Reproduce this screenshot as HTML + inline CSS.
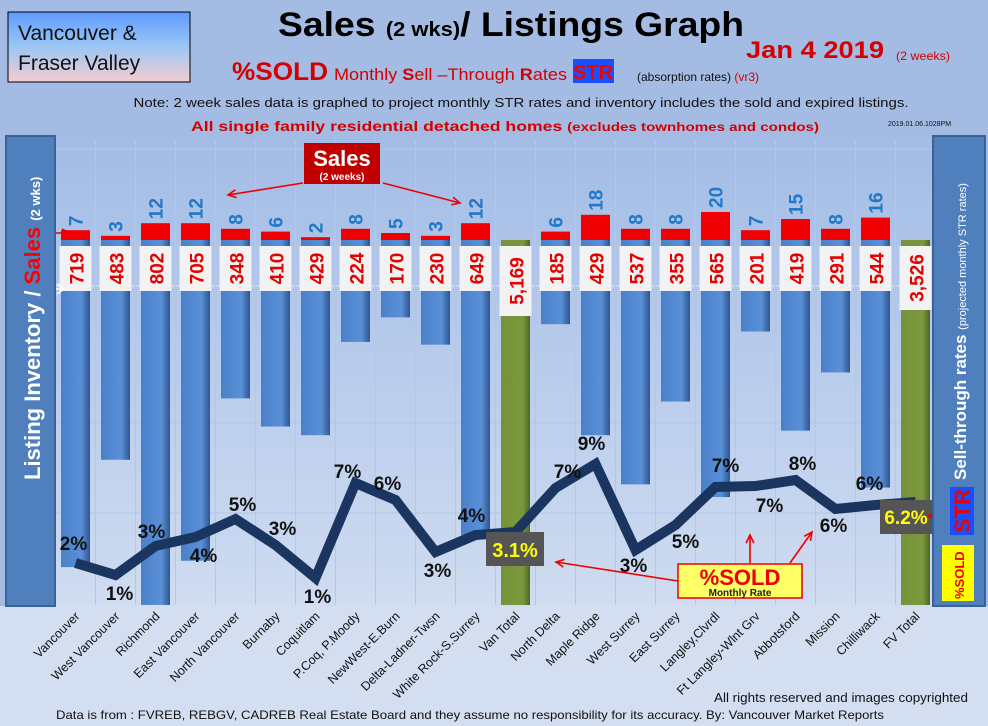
<!DOCTYPE html>
<html><head><meta charset="utf-8">
<style>
html,body{margin:0;padding:0;background:#a4bce4;}
svg{display:block;font-family:"Liberation Sans",sans-serif;}
</style></head><body>
<svg id="s" width="988" height="726" viewBox="0 0 988 726" xmlns="http://www.w3.org/2000/svg">
<defs>
<linearGradient id="bx" x1="0" y1="0" x2="0" y2="1"><stop offset="0" stop-color="#5e9bff"/><stop offset="0.5" stop-color="#9cc6f4"/><stop offset="1" stop-color="#f5ccd2"/></linearGradient>
<linearGradient id="pa" x1="0" y1="0" x2="0" y2="1"><stop offset="0" stop-color="#a3bce6"/><stop offset="1" stop-color="#cfdcf1"/></linearGradient>
<linearGradient id="bb" x1="0" y1="0" x2="1" y2="0"><stop offset="0" stop-color="#4a80c8"/><stop offset="0.7" stop-color="#5a90d8"/><stop offset="1" stop-color="#2e5590"/></linearGradient>
<linearGradient id="gb" x1="0" y1="0" x2="1" y2="0"><stop offset="0" stop-color="#76923a"/><stop offset="0.75" stop-color="#7a983c"/><stop offset="1" stop-color="#4f6426"/></linearGradient>
</defs>
<rect x="0" y="0" width="988" height="726" fill="#a4bce4"/>
<rect x="0" y="606" width="988" height="120" fill="#d3def1"/>
<rect x="56" y="136" width="877" height="470" fill="url(#pa)"/>
<g id="g"></g>
</svg>
<script>
var g=document.getElementById('g');var h='';
var names=["Vancouver","West Vancouver","Richmond","East Vancouver","North Vancouver","Burnaby","Coquitlam","P.Coq, P.Moody","NewWest-E.Burn","Delta-Ladner-Twsn","White Rock-S.Surrey","Van Total","North Delta","Maple Ridge","West Surrey","East Surrey","Langley,Clvrdl","Ft Langley-Wlnt Grv","Abbotsford","Mission","Chilliwack","FV Total"];
var L=[719,483,802,705,348,410,429,224,170,230,649,5169,185,429,537,355,565,201,419,291,544,3526];
var S=[7,3,12,12,8,6,2,8,5,3,12,78,6,18,8,8,20,7,15,8,16,106];
var LY=[563,575,546,537,519,545,578,483,500,552,535,532,488,464,550,525,487,486,480,509,505,502];
var P=[["2%",-2,550],["1%",4,600],["3%",-4,538],["4%",8,562],["5%",7,511],["3%",7,535],["1%",2,603],["7%",-8,478],["6%",-8,490],["3%",2,577],["4%",-4,522],null,["7%",12,478],["9%",-4,450],["3%",-2,572],["5%",10,548],["7%",10,472],["7%",14,512],["8%",7,470],["6%",-2,532],["6%",-6,490],null];
function cx(i){return 75.5+40*i;}
[149,240,332,423,513].forEach(function(y){h+='<line x1="56" x2="933" y1="'+y+'" y2="'+y+'" stroke="#b3c7e8" stroke-width="1"/>';});
h+='<line x1="56" x2="933" y1="286" y2="286" stroke="#dfe7f4" stroke-width="1"/>';
for(var i=1;i<22;i++){var x=55.5+40*i;h+='<line x1="'+x+'" x2="'+x+'" y1="140" y2="605" stroke="#b3c7e8" stroke-width="1"/>';}
for(var i=0;i<22;i++){
 var x=cx(i);var tot=(i==11||i==21);
 var bot=tot?605:Math.min(605,240+0.455*L[i]);
 h+='<rect x="'+(x-14.5)+'" y="240" width="29" height="'+(bot-240)+'" fill="url(#'+(tot?'gb':'bb')+')"/>';
 if(tot){var top=i==11?205:192;
  h+='<rect x="'+(x-14.5)+'" y="'+top+'" width="29" height="'+(240-top)+'" fill="#b80000"/>';
  h+='<text transform="translate('+(x+7)+','+(top+(i==11?4:6))+') rotate(-90)" text-anchor="end" font-size="20" font-weight="bold" fill="#fff">'+S[i]+'</text>';
 }else{var t=240-1.4*S[i];
  h+='<rect x="'+(x-14.5)+'" y="'+t+'" width="29" height="'+(240-t)+'" fill="#f00000"/>';
  h+='<text transform="translate('+(x+7)+','+(t-4)+') rotate(-90)" font-size="19" font-weight="bold" fill="#1f78c8">'+S[i]+'</text>';}
 var lab=L[i].toLocaleString('en-US');
 var bh=tot?(i==11?70:64):45;
 h+='<rect x="'+(x-16)+'" y="246" width="32" height="'+bh+'" fill="#f2f2f2"/>';
 h+='<text transform="translate('+(x+8)+','+(246+bh/2)+') rotate(-90)" text-anchor="middle" font-size="19" font-weight="bold" fill="#e60000">'+lab+'</text>';
 h+='<text transform="translate('+(x+5)+',617) rotate(-45)" text-anchor="end" font-size="12.5" fill="#111">'+names[i]+'</text>';
}
var pts=LY.map(function(y,i){return cx(i)+','+y;}).join(' ');
h+='<polyline points="'+pts+'" fill="none" stroke="#1a3660" stroke-width="10" stroke-linejoin="miter"/>';
P.forEach(function(p,i){if(!p)return;h+='<text x="'+(cx(i)+p[1])+'" y="'+p[2]+'" text-anchor="middle" font-size="19" font-weight="bold" fill="#111">'+p[0]+'</text>';});
h+='<rect x="486" y="532" width="58" height="34" fill="#555"/><text x="515" y="557" text-anchor="middle" font-size="20" font-weight="bold" fill="#ffff00">3.1%</text>';
h+='<rect x="880" y="500" width="52" height="34" fill="#555"/><text x="906" y="524" text-anchor="middle" font-size="19" font-weight="bold" fill="#ffff00">6.2%</text>';
h+='<rect x="678" y="564" width="124" height="34" fill="#ffff66" stroke="#e00" stroke-width="1.5"/><text x="740" y="585" text-anchor="middle" font-size="22" font-weight="bold" fill="#e00">%SOLD</text><text x="740" y="596" text-anchor="middle" font-size="10" font-weight="bold" fill="#222">Monthly Rate</text>';
function arr(x1,y1,x2,y2){var a=Math.atan2(y2-y1,x2-x1),l=9;h+='<line x1="'+x1+'" y1="'+y1+'" x2="'+x2+'" y2="'+y2+'" stroke="#e00" stroke-width="1.6"/><polyline points="'+(x2-l*Math.cos(a-0.45))+','+(y2-l*Math.sin(a-0.45))+' '+x2+','+y2+' '+(x2-l*Math.cos(a+0.45))+','+(y2-l*Math.sin(a+0.45))+'" fill="none" stroke="#e00" stroke-width="1.6"/>';}
arr(678,581,556,562);arr(750,563,750,535);arr(790,563,812,532);arr(985,516,928,516);
arr(303,183,228,195);arr(383,183,460,203);arr(40,233,70,233);
h+='<line x1="40" y1="289" x2="64" y2="289" stroke="#fff" stroke-width="1.6"/><polyline points="57,284 64,289 57,294" fill="none" stroke="#fff" stroke-width="1.6"/>';
h+='<rect x="304" y="143" width="76" height="41" fill="#c00000"/><text x="342" y="166" text-anchor="middle" font-size="22" font-weight="bold" fill="#fff">Sales</text><text x="342" y="180" text-anchor="middle" font-size="10" font-weight="bold" fill="#fff">(2 weeks)</text>';
h+='<rect x="6" y="136" width="49" height="470" fill="#4f7fbd" stroke="#3b6297" stroke-width="2"/>';
h+='<text transform="translate(40,480) rotate(-90)" font-size="22" font-weight="bold" fill="#fff">Listing Inventory / <tspan fill="#f00">Sales</tspan> <tspan font-size="13">(2  wks)</tspan></text>';
h+='<rect x="933" y="136" width="52" height="470" fill="#4f7fbd" stroke="#3b6297" stroke-width="2"/>';
h+='<text transform="translate(966,480) rotate(-90)" font-size="17" font-weight="bold" fill="#fff">Sell-through rates <tspan font-size="11" font-weight="normal">(projected monthly STR rates)</tspan></text>';
h+='<rect x="950" y="487" width="24" height="48" fill="#1a4fff"/><text transform="translate(970,533) rotate(-90)" font-size="22" font-weight="bold" fill="#e00">STR</text>';
h+='<rect x="942" y="545" width="32" height="56" fill="#ffff00"/><text transform="translate(964,599) rotate(-90)" font-size="13" font-weight="bold" fill="#e00">%SOLD</text>';
h+='<rect x="8" y="12" width="182" height="70" fill="url(#bx)" stroke="#000" stroke-width="1"/>';
h+='<text x="18" y="40" font-size="21" fill="#111">Vancouver &amp;</text><text x="18" y="70" font-size="21" fill="#111">Fraser Valley</text>';
h+='<text x="278" y="36" font-size="34" font-weight="bold" fill="#000" textLength="466" lengthAdjust="spacingAndGlyphs">Sales <tspan font-size="20">(2 wks)</tspan>/ Listings Graph</text>';
h+='<text x="896" y="60" font-size="12" fill="#d40000" textLength="54" lengthAdjust="spacingAndGlyphs">(2 weeks)</text>';
h+='<text x="746" y="58" font-size="24" font-weight="bold" fill="#d40000" textLength="138" lengthAdjust="spacingAndGlyphs">Jan 4 2019</text>';
h+='<text x="232" y="80" font-size="25" font-weight="bold" fill="#d40000" textLength="96" lengthAdjust="spacingAndGlyphs">%SOLD</text>';
h+='<text x="334" y="80" font-size="17" fill="#d40000" textLength="233" lengthAdjust="spacingAndGlyphs">Monthly <tspan font-weight="bold">S</tspan>ell –Through <tspan font-weight="bold">R</tspan>ates</text>';
h+='<rect x="573" y="59" width="41" height="24" fill="#1a4fff"/><text x="593" y="79" text-anchor="middle" font-size="20" font-weight="bold" fill="#e00">STR</text>';
h+='<text x="637" y="81" font-size="12" fill="#111">(absorption rates) <tspan fill="#d40000">(vr3)</tspan></text>';
h+='<text x="521" y="107" text-anchor="middle" font-size="13" fill="#111" textLength="775" lengthAdjust="spacingAndGlyphs">Note: 2 week sales data is graphed to project monthly STR rates and inventory includes the sold and expired listings.</text>';
h+='<text x="505" y="131" text-anchor="middle" font-size="14" font-weight="bold" fill="#d40000" textLength="628" lengthAdjust="spacingAndGlyphs">All single family residential detached homes <tspan font-size="12">(excludes townhomes and condos)</tspan></text>';
h+='<text x="888" y="126" font-size="7" fill="#111">2019.01.06.1028PM</text>';
h+='<text x="968" y="702" text-anchor="end" font-size="13" fill="#111" textLength="254" lengthAdjust="spacingAndGlyphs">All rights reserved and  images copyrighted</text>';
h+='<text x="470" y="719" text-anchor="middle" font-size="12" fill="#111" textLength="828" lengthAdjust="spacingAndGlyphs">Data is from : FVREB, REBGV, CADREB Real Estate Board and they assume no responsibility for its accuracy. By: Vancouver Market Reports</text>';
g.innerHTML=h;
</script>
</body></html>
